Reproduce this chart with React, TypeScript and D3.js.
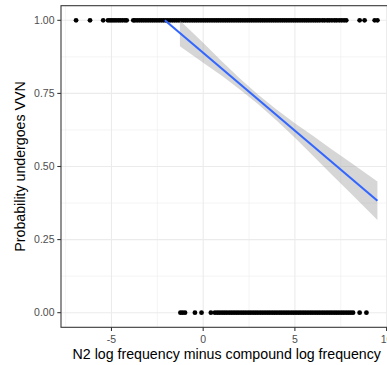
import React from "react";
import * as d3 from "d3";

const xTicks = [-5, 0, 5, 10];
const xMinor = [-7.5, -2.5, 2.5, 7.5];
const yTicks = [0, 0.25, 0.5, 0.75, 1];
const yMinor = [0.125, 0.375, 0.625, 0.875];
const yTickLabels = ["0.00", "0.25", "0.50", "0.75", "1.00"];

// observations with outcome 1 (undergoes VVN)
const xOnes = [
  -6.93, -6.17, -5.45, -5.19, -5.08, -4.97, -4.86, -4.75, -4.63, -4.52, -4.4, -4.27,
  -4.17, -3.81, -3.72, -3.6, -3.48, -3.36, -3.24, -3.12, -3.0, -2.88, -2.76, -2.64,
  -2.52, -2.4, -2.28, -2.16, -2.04, -1.92, -1.8, -1.68, -1.56, -1.44, -1.32, -1.2,
  -1.08, -0.96, -0.84, -0.72, -0.6, -0.48, -0.36, -0.24, -0.12, 0.0, 0.12, 0.24,
  0.36, 0.48, 0.6, 0.72, 0.84, 0.96, 1.08, 1.2, 1.32, 1.44, 1.56, 1.68, 1.8, 1.92,
  2.04, 2.16, 2.28, 2.4, 2.52, 2.64, 2.76, 2.88, 3.0, 3.12, 3.24, 3.36, 3.48, 3.6,
  3.72, 3.84, 3.96, 4.08, 4.2, 4.32, 4.44, 4.56, 4.68, 4.8, 4.92, 5.04, 5.16, 5.28,
  5.4, 5.52, 5.64, 5.76, 5.88, 6.0, 6.12, 6.24, 6.36, 6.5, 6.62, 6.76, 6.88, 7.02,
  7.16, 7.28, 7.42, 7.55, 7.68, 7.8, 8.53, 8.8, 9.35, 9.5,
];

// observations with outcome 0
const xZeros = [
  -1.24, -1.12, -0.99, -0.45, -0.09, 0.42, 0.64, 0.77, 0.9, 1.03, 1.16, 1.29, 1.42,
  1.55, 1.68, 1.81, 1.94, 2.07, 2.2, 2.33, 2.46, 2.59, 2.72, 2.85, 2.98, 3.11, 3.24,
  3.37, 3.5, 3.63, 3.76, 3.89, 4.02, 4.15, 4.28, 4.41, 4.54, 4.67, 4.8, 4.93, 5.06,
  5.19, 5.32, 5.45, 5.58, 5.71, 5.84, 5.97, 6.1, 6.23, 6.36, 6.49, 6.62, 6.75, 6.88,
  7.01, 7.14, 7.27, 7.4, 7.53, 7.66, 7.79, 7.92, 8.05, 8.17, 8.53, 8.9,
];

// linear smooth (fit line) and its confidence band
const fitX = [-2.09, 9.5];
const fitY = [1.0, 0.383];
const bandX = [-1.27, 0, 1, 2, 3, 4, 5, 6, 7, 8, 9.5];
const bandLo = [0.911, 0.855, 0.811, 0.763, 0.713, 0.657, 0.598, 0.536, 0.473, 0.411, 0.317];
const bandHi = [0.999, 0.923, 0.861, 0.801, 0.745, 0.695, 0.648, 0.604, 0.559, 0.515, 0.449];

const W = 387;
const H = 365;
const pL = 61;
const pR = 392.5;
const pT = 5.7;
const pB = 327.3;
const font = "'Liberation Sans', Arial, sans-serif";

export default function App() {
  const xmin = d3.min(xOnes.concat(xZeros)) as number;
  const xmax = d3.max(xOnes.concat(xZeros)) as number;
  const pad = (xmax - xmin) * 0.05;
  const x = d3.scaleLinear().domain([xmin - pad, xmax + pad]).range([pL, pR]);
  const y = d3.scaleLinear().domain([-0.05, 1.05]).range([pB, pT]);

  const area = d3
    .area<number>()
    .x((_, i) => x(bandX[i]))
    .y0((_, i) => y(bandLo[i]))
    .y1((_, i) => y(bandHi[i]));
  const line = d3
    .line<number>()
    .x((_, i) => x(fitX[i]))
    .y((d) => y(d));

  return (
    <svg
      width={W}
      height={H}
      style={{ position: "absolute", left: 0, top: 0, background: "#fff" }}
      fontFamily={font}
    >
      <defs>
        <clipPath id="panel">
          <rect x={pL} y={pT} width={pR - pL} height={pB - pT} />
        </clipPath>
      </defs>
      <rect x={pL} y={pT} width={pR - pL} height={pB - pT} fill="#fff" />
      <g clipPath="url(#panel)">
        {xMinor.map((t) => (
          <line key={"xm" + t} x1={x(t)} x2={x(t)} y1={pT} y2={pB} stroke="#EBEBEB" strokeWidth={0.55} />
        ))}
        {yMinor.map((t) => (
          <line key={"ym" + t} x1={pL} x2={pR} y1={y(t)} y2={y(t)} stroke="#EBEBEB" strokeWidth={0.55} />
        ))}
        {xTicks.map((t) => (
          <line key={"xg" + t} x1={x(t)} x2={x(t)} y1={pT} y2={pB} stroke="#EBEBEB" strokeWidth={1.07} />
        ))}
        {yTicks.map((t) => (
          <line key={"yg" + t} x1={pL} x2={pR} y1={y(t)} y2={y(t)} stroke="#EBEBEB" strokeWidth={1.07} />
        ))}
        {xOnes.map((v, i) => (
          <circle key={"o" + i} cx={x(v)} cy={y(1)} r={2.4} fill="#000" />
        ))}
        {xZeros.map((v, i) => (
          <circle key={"z" + i} cx={x(v)} cy={y(0)} r={2.4} fill="#000" />
        ))}
        <path d={area(bandX) || ""} fill="#999999" fillOpacity={0.4} />
        <path d={line(fitY) || ""} fill="none" stroke="#3366FF" strokeWidth={2.1} />
      </g>
      <rect x={pL} y={pT} width={pR - pL} height={pB - pT} fill="none" stroke="#333333" strokeWidth={1.07} />
      {yTicks.map((t, i) => (
        <g key={"yt" + t}>
          <line x1={pL - 3.7} x2={pL} y1={y(t)} y2={y(t)} stroke="#333333" strokeWidth={1.07} />
          <text x={pL - 6.5} y={y(t)} dy="0.36em" textAnchor="end" fontSize={10.5} fill="#4D4D4D">
            {yTickLabels[i]}
          </text>
        </g>
      ))}
      {xTicks.map((t) => (
        <g key={"xt" + t}>
          <line x1={x(t)} x2={x(t)} y1={pB} y2={pB + 3.7} stroke="#333333" strokeWidth={1.07} />
          <text x={x(t)} y={pB + 15.5} textAnchor="middle" fontSize={10.5} fill="#4D4D4D">
            {t < 0 ? "-" + Math.abs(t) : String(t)}
          </text>
        </g>
      ))}
      <text x={(pL + pR) / 2} y={359} textAnchor="middle" fontSize={14.2} fill="#000">
        N2 log frequency minus compound log frequency
      </text>
      <text
        transform={`translate(25, ${(pT + pB) / 2}) rotate(-90)`}
        textAnchor="middle"
        fontSize={14.2}
        fill="#000"
      >
        Probability undergoes VVN
      </text>
    </svg>
  );
}
